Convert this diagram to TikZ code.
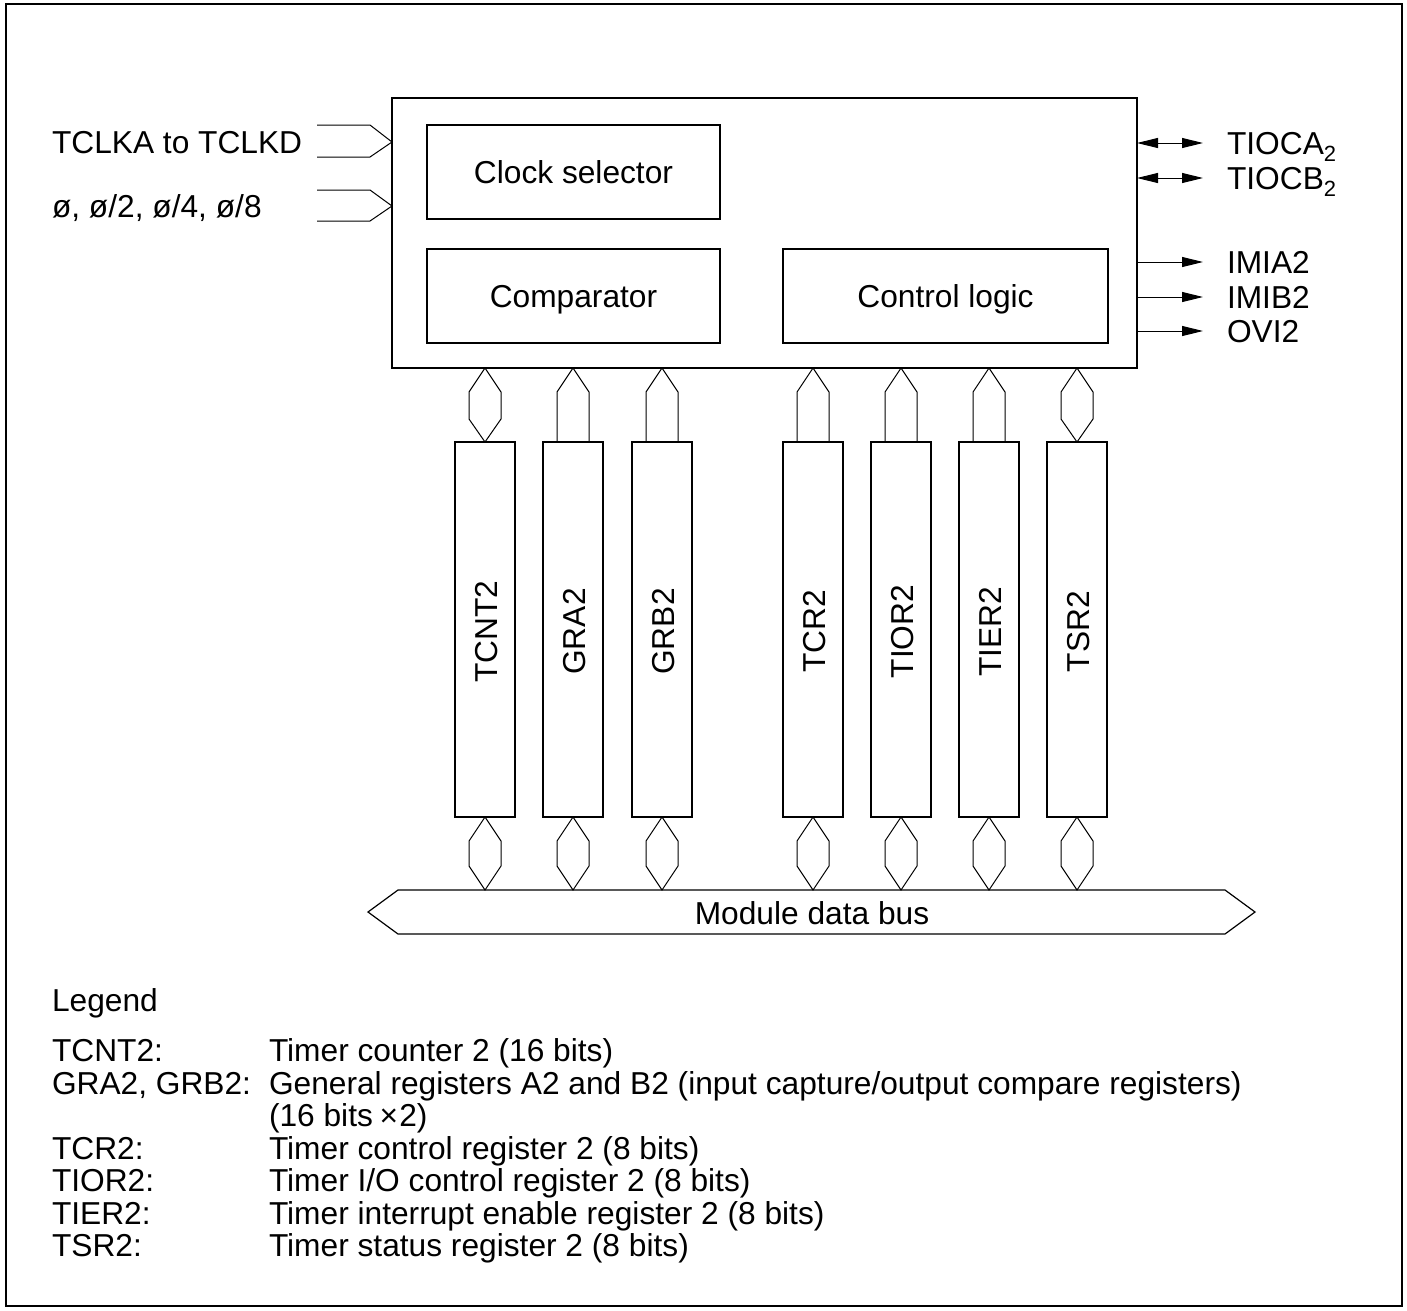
\documentclass[tikz,border=0pt]{standalone}
\usepackage{fontspec}
\setmainfont{Liberation Sans}
\usetikzlibrary{arrows.meta,calc}
\newcommand\subtwo{\raisebox{-7pt}{\fontsize{22}{22}\selectfont 2}}
\begin{document}
\begin{tikzpicture}[x=1pt,y=-1pt,
  every node/.style={font=\fontsize{31.7}{36}\selectfont, inner sep=0pt, outer sep=0pt, text height=22.5pt, text depth=0pt},
  box/.style={draw, line width=1.6pt},
  regbox/.style={draw, line width=1.6pt, minimum width=60pt, minimum height=375pt},
  conn/.style={line width=1pt},
  outtip/.style={-{Triangle[length=21pt,width=10pt]}, line width=1pt},
  biditip/.style={{Triangle[length=21pt,width=10pt]}-{Triangle[length=21pt,width=10pt]}, line width=1pt},
  lbl/.style={anchor=west}]
\useasboundingbox (0,0) rectangle (1407,1310);
\draw[line width=1.6pt] (6,4) rectangle (1402,1306);

% main block
\node[box, minimum width=745pt, minimum height=270pt] (blk) at (764.5,233) {};
\node[box, minimum width=293pt, minimum height=94pt] (clk) at (573.5,172) {Clock selector};
\node[box, minimum width=293pt, minimum height=94pt] (cmp) at (573.5,296) {Comparator};
\node[box, minimum width=325pt, minimum height=94pt] (ctl) at (945.5,296) {Control logic};

% inputs
\node[lbl] (tclk) at (52,142) {TCLKA to TCLKD};
\node[lbl] (phi) at (52,206) {ø, ø/2, ø/4, ø/8};
\coordinate (tclktip) at (blk.west |- 0,142);
\coordinate (phitip) at (blk.west |- 0,206);
\draw[conn] ($(tclktip)+(-75,-17)$) -- ($(tclktip)+(-22,-17)$) -- (tclktip) -- ($(tclktip)+(-22,15)$) -- ($(tclktip)+(-75,15)$);
\draw[conn] ($(phitip)+(-75,-16)$) -- ($(phitip)+(-22,-16)$) -- (phitip) -- ($(phitip)+(-22,15)$) -- ($(phitip)+(-75,15)$);

% outputs
\node[lbl] (tioca) at (1227,143) {TIOCA\subtwo};
\node[lbl] (tiocb) at (1227,178) {TIOCB\subtwo};
\node[lbl] (imia) at (1227,262) {IMIA2};
\node[lbl] (imib) at (1227,297) {IMIB2};
\node[lbl] (ovi) at (1227,331) {OVI2};
\draw[biditip] (blk.east |- tioca.west) -- ($(tioca.west)+(-24,0)$);
\draw[biditip] (blk.east |- tiocb.west) -- ($(tiocb.west)+(-24,0)$);
\draw[outtip] (blk.east |- imia.west) -- ($(imia.west)+(-24,0)$);
\draw[outtip] (blk.east |- imib.west) -- ($(imib.west)+(-24,0)$);
\draw[outtip] (blk.east |- ovi.west) -- ($(ovi.west)+(-24,0)$);

% registers
\foreach \r/\x/\t in {tcnt/485/TCNT2, gra/573/GRA2, grb/662/GRB2, tcr/813/TCR2, tior/901/TIOR2, tier/989/TIER2, tsr/1077/TSR2}{
  \node[regbox] (\r) at (\x,629.5) {};
  \node[rotate=90] (\r-l) at ($(\r.center)+(1,2)$) {\t};
}

% bus
\coordinate (bt) at (812,890);
\draw[line width=1.2pt] (368,912) -- (398,890) -- (1225,890) -- (1255,912) -- (1225,934) -- (398,934) -- cycle;
\node (bus) at (812,913) {Module data bus};

% connectors
\foreach \r in {tcnt,gra,grb,tcr,tior,tier,tsr}{
  \coordinate (\r-t) at (blk.south -| \r.north);
  \coordinate (\r-b) at (bt -| \r.south);
  \draw[conn] (\r.south) -- ($(\r.south)+(16,24)$) -- ($(\r-b)+(16,-24)$) -- (\r-b) -- ($(\r-b)+(-16,-24)$) -- ($(\r.south)+(-16,24)$) -- cycle;
}
\foreach \r in {tcnt,tsr}{
  \draw[conn] (\r-t) -- ($(\r-t)+(16,24)$) -- ($(\r.north)+(16,-23)$) -- (\r.north) -- ($(\r.north)+(-16,-23)$) -- ($(\r-t)+(-16,24)$) -- cycle;
}
\foreach \r in {gra,grb,tcr,tior,tier}{
  \draw[conn] ($(\r.north)+(-16,0)$) -- ($(\r-t)+(-16,24)$) -- (\r-t) -- ($(\r-t)+(16,24)$) -- ($(\r.north)+(16,0)$);
}

% legend
\node[lbl] (leg) at (52,1000) {Legend};
\node[lbl] (k1) at (52,1050) {TCNT2:};
\node[lbl] (v1) at (269,1050) {Timer counter 2 (16 bits)};
\node[lbl] (k2) at (52,1083) {GRA2, GRB2:};
\node[lbl] (v2) at (269,1083) {General registers A2 and B2 (input capture/output compare registers)};
\node[lbl] (v2b) at (269,1115) {(16 bits \kern-2pt×\kern1pt2)};
\node[lbl] (k3) at (52,1148) {TCR2:};
\node[lbl] (v3) at (269,1148) {Timer control register 2 (8 bits)};
\node[lbl] (k4) at (52,1180) {TIOR2:};
\node[lbl] (v4) at (269,1180) {Timer I/O control register 2 (8 bits)};
\node[lbl] (k5) at (52,1213) {TIER2:};
\node[lbl] (v5) at (269,1213) {Timer interrupt enable register 2 (8 bits)};
\node[lbl] (k6) at (52,1245) {TSR2:};
\node[lbl] (v6) at (269,1245) {Timer status register 2 (8 bits)};
\end{tikzpicture}
\end{document}
